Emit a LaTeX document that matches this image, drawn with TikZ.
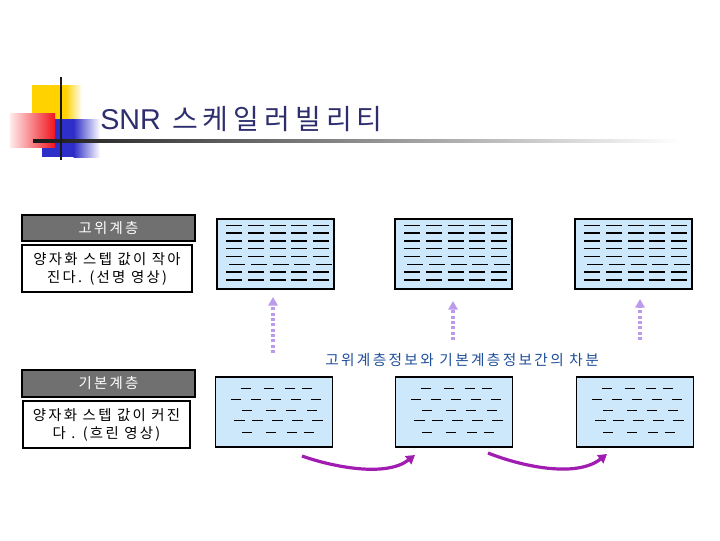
\documentclass[tikz,border=0pt]{standalone}
\usepackage{fontspec}
\setmainfont{Noto Sans CJK KR}
\newfontfamily\widefont[LetterSpace=16]{Noto Sans CJK KR}
\newfontfamily\titlefont[LetterSpace=18]{Noto Sans CJK KR}
\newfontfamily\latinfont{Liberation Sans}
\usetikzlibrary{arrows.meta}
\definecolor{boxblue}{HTML}{CCE8FA}
\definecolor{labgray}{HTML}{707070}
\definecolor{lav}{HTML}{BC9BEC}
\definecolor{mag}{HTML}{A11CB0}
\definecolor{navy}{HTML}{2E2E6E}
\definecolor{capblue}{HTML}{1F4E9A}
\definecolor{yel}{HTML}{FFD200}
\definecolor{blu}{HTML}{2E2EC8}
\tikzset{
  graybox/.style={draw=black, line width=0.9pt, fill=labgray, text=white, inner sep=0pt, font=\widefont\fontsize{10.8pt}{13pt}\selectfont},
  whitebox/.style={draw=black, line width=0.9pt, fill=white, inner sep=0pt, align=center, font=\widefont\fontsize{10.8pt}{13.5pt}\selectfont},
  picbox/.style={draw=black, line width=1.1pt, fill=boxblue, inner sep=0pt, minimum width=87.5pt, minimum height=52.5pt},
  dashln/.style={line width=0.95pt, black},
  uparrow/.style={draw=lav, line width=2.6pt, dash pattern=on 2.2pt off 1.8pt, -{Triangle[width=7pt,length=6.5pt,fill=lav]}},
  curvearrow/.style={draw=mag, line width=2.4pt, -{Triangle[width=7.5pt,length=6.5pt,fill=mag]}},
}
\begin{document}
\begin{tikzpicture}[x=0.75pt,y=-0.75pt]
\useasboundingbox (0,0) rectangle (720,540);
\fill[white] (0,0) rectangle (720,540);
% title decoration
\fill[yel] (32,85) rectangle (66,125);
\shade[left color=yel, right color=white] (65.5,85) rectangle (82,125);
\fill[blu] (42,119) rectangle (74,157);
\shade[left color=blu, right color=white] (73.5,119) rectangle (100,157);
\shade[left color={rgb,255:red,255;green,235;blue,235}, right color={rgb,255:red,240;green,20;blue,30}] (10,113) rectangle (55,147);
\shade[left color={rgb,255:red,25;green,25;blue,25}, right color=white] (33,139.7) rectangle (680,142.3);
\draw[line width=2.2pt, black!90] (61,77) -- (61,160);
\node[anchor=base west, text=navy, font=\titlefont\fontsize{21pt}{24pt}\selectfont, inner sep=0pt] (title) at (100,129) {{\latinfont\fontsize{21.5pt}{24pt}\selectfont SNR} 스케일러빌리티};
% left labels
\node[graybox, minimum width=129.75pt, minimum height=19.5pt] (g1) at (108.5,228) {고위계층};
\node[whitebox, minimum width=127.5pt, minimum height=35.25pt] (w1) at (107,268.5) {양자화 스텝 값이 작아\\진다. (선명 영상)};
\node[graybox, minimum width=129.75pt, minimum height=20.25pt] (g2) at (108.5,383.5) {기본계층};
\node[whitebox, minimum width=125.25pt, minimum height=35.25pt] (w2) at (106.5,424.5) {양자화 스텝 값이 커진\\다 . (흐린 영상)};
% top boxes
\foreach \n/\cx in {t1/275.5, t2/453.5, t3/633.5}{
  \node[picbox] (\n) at (\cx,254) {};
  \begin{scope}[shift={(\n.north west)}]
    \foreach \r in {0,...,7}{
      \pgfmathsetmacro{\off}{\r==5 ? 3 : 0}
      \foreach \c in {0,...,4}{
        \draw[dashln] ({10+\off+21.6*\c},{7+7.8*\r}) -- ++(16,0);
      }
    }
  \end{scope}
}
% bottom boxes
\foreach \n/\cx in {b1/274, b2/454, b3/635}{
  \node[picbox] (\n) at (\cx,412) {};
  \begin{scope}[shift={(\n.north west)}]
    \foreach \x in {26,49,70,87}{\draw[dashln] (\x,12) -- ++(10.5,0);}
    \foreach \x in {16,36,56,76,96}{\draw[dashln] (\x,23) -- ++(10.5,0);}
    \foreach \x in {27,51,71,92}{\draw[dashln] (\x,34) -- ++(10.5,0);}
    \foreach \x in {19,37,57,77,97}{\draw[dashln] (\x,44) -- ++(11,0);}
    \foreach \x in {27,51,72,89}{\draw[dashln] (\x,56) -- ++(10.5,0);}
  \end{scope}
}
% dotted up arrows
\coordinate (a1s) at (273,353); \coordinate (a1e) at (273,297);
\coordinate (a2s) at (453,340); \coordinate (a2e) at (453,301);
\coordinate (a3s) at (640,340); \coordinate (a3e) at (640,299);
\draw[uparrow] (a1s) -- (a1e);
\draw[uparrow] (a2s) -- (a2e);
\draw[uparrow] (a3s) -- (a3e);
\node[text=capblue, font=\widefont\fontsize{11pt}{13pt}\selectfont, inner sep=0pt] (cap) at (462,360) {고위계층정보와 기본계층정보간의 차분};
% curved arrows
\coordinate (c1s) at (302,456); \coordinate (c1e) at (415,455);
\coordinate (c2s) at (488,453); \coordinate (c2e) at (607,454);
\draw[curvearrow] (c1s) .. controls (330,466) and (385,478) .. (c1e);
\draw[curvearrow] (c2s) .. controls (518,465) and (575,479) .. (c2e);
\end{tikzpicture}
\end{document}
